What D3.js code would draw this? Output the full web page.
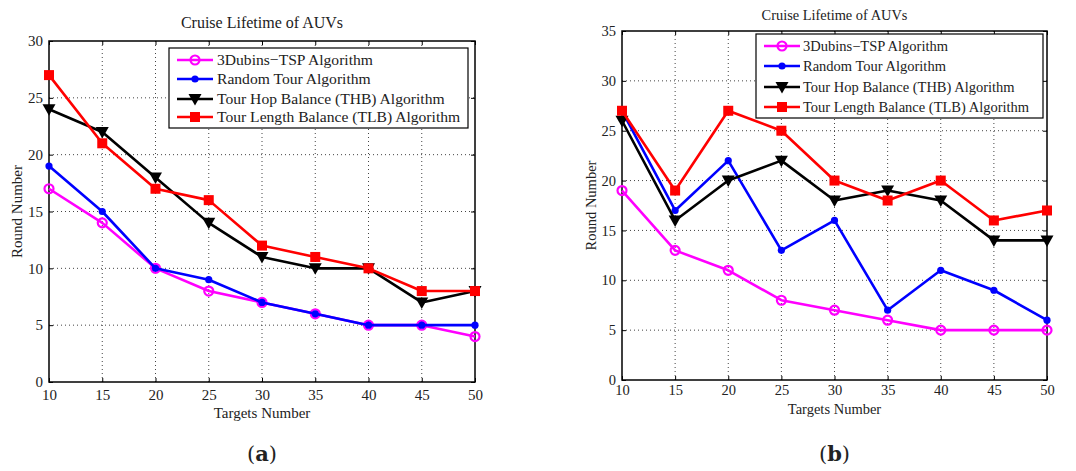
<!DOCTYPE html>
<html>
<head>
<meta charset="utf-8">
<script src="https://cdn.jsdelivr.net/npm/d3@7"></script>
<style>
  body { margin: 0; background: #fff; }
  svg { display: block; }
  text { font-family: "Liberation Serif", "Times New Roman", serif; fill: #222; }
</style>
</head>
<body>
<svg id="fig" width="1076" height="471"></svg>
<script>
// targets number on the x axis
var targets = [10, 15, 20, 25, 30, 35, 40, 45, 50];

var seriesNames = [
  "3Dubins\u2212TSP Algorithm",
  "Random Tour Algorithm",
  "Tour Hop Balance (THB) Algorithm",
  "Tour Length Balance (TLB) Algorithm"
];

// panel (a)
var dubinsA = [17, 14, 10, 8, 7, 6, 5, 5, 4];
var randomA = [19, 15, 10, 9, 7, 6, 5, 5, 5];
var thbA = [24, 22, 18, 14, 11, 10, 10, 7, 8];
var tlbA = [27, 21, 17, 16, 12, 11, 10, 8, 8];

// panel (b)
var dubinsB = [19, 13, 11, 8, 7, 6, 5, 5, 5];
var randomB = [27, 17, 22, 13, 16, 7, 11, 9, 6];
var thbB = [26, 16, 20, 22, 18, 19, 18, 14, 14];
var tlbB = [27, 19, 27, 25, 20, 18, 20, 16, 17];

var yTicksA = [0, 5, 10, 15, 20, 25, 30];
var yTicksB = [0, 5, 10, 15, 20, 25, 30, 35];

var styles = [
  { color: "#ff00ff", marker: "circleOpen" },
  { color: "#0000ff", marker: "dot" },
  { color: "#000000", marker: "triangle" },
  { color: "#ff0000", marker: "square" }
];

var svg = d3.select("#fig");

function drawMarker(sel, type, color) {
  if (type === "circleOpen") {
    sel.append("circle").attr("r", 4.5).attr("fill", "none")
      .attr("stroke", color).attr("stroke-width", 2.2);
  } else if (type === "dot") {
    sel.append("circle").attr("r", 3.6).attr("fill", color);
  } else if (type === "triangle") {
    sel.append("path").attr("d", "M-6.5,-5 L6.5,-5 L0,6.5 Z").attr("fill", color);
  } else {
    sel.append("rect").attr("x", -5).attr("y", -5).attr("width", 10).attr("height", 10)
      .attr("fill", color);
  }
}

function drawPanel(opt) {
  var g = svg.append("g");
  var x = d3.scaleLinear().domain([10, 50]).range([opt.left, opt.right]);
  var y = d3.scaleLinear().domain([0, opt.ymax]).range([opt.bottom, opt.top]);

  // dotted grid
  g.append("g").selectAll("line").data(targets.slice(1, -1)).enter().append("line")
    .attr("x1", function (d) { return x(d); })
    .attr("x2", function (d) { return x(d); })
    .attr("y1", opt.top).attr("y2", opt.bottom)
    .attr("stroke", "#444").attr("stroke-width", 1).attr("stroke-dasharray", "1,3");
  g.append("g").selectAll("line").data(opt.yticks.slice(1, -1)).enter().append("line")
    .attr("y1", function (d) { return y(d); })
    .attr("y2", function (d) { return y(d); })
    .attr("x1", opt.left).attr("x2", opt.right)
    .attr("stroke", "#444").attr("stroke-width", 1).attr("stroke-dasharray", "1,3");

  // axes, ticks inward on all four sides
  var axB = d3.axisBottom(x).tickValues(targets).tickSizeInner(-4).tickSizeOuter(0).tickPadding(opt.xPad);
  var axL = d3.axisLeft(y).tickValues(opt.yticks).tickSizeInner(-4).tickSizeOuter(0).tickPadding(6);
  var axT = d3.axisTop(x).tickValues(targets).tickSizeInner(-4).tickSizeOuter(0).tickFormat("");
  var axR = d3.axisRight(y).tickValues(opt.yticks).tickSizeInner(-4).tickSizeOuter(0).tickFormat("");

  [[axB, "translate(0," + opt.bottom + ")"], [axL, "translate(" + opt.left + ",0)"],
   [axT, "translate(0," + opt.top + ")"], [axR, "translate(" + opt.right + ",0)"]].forEach(function (a) {
    var ax = g.append("g").attr("transform", a[1]).call(a[0]);
    ax.select(".domain").remove();
    ax.selectAll("line").attr("stroke", "#000");
    ax.selectAll("text").style("font-family", "Liberation Serif, serif")
      .style("font-size", opt.tickFont + "px").attr("fill", "#222");
  });

  g.append("rect").attr("x", opt.left).attr("y", opt.top)
    .attr("width", opt.right - opt.left).attr("height", opt.bottom - opt.top)
    .attr("fill", "none").attr("stroke", "#000").attr("stroke-width", 1.5);

  // series
  var line = d3.line()
    .x(function (d, i) { return x(targets[i]); })
    .y(function (d) { return y(d); });

  opt.series.forEach(function (vals, k) {
    var st = styles[k];
    g.append("path").datum(vals).attr("d", line)
      .attr("fill", "none").attr("stroke", st.color).attr("stroke-width", 2.6)
      .attr("stroke-linejoin", "round");
    g.append("g").selectAll("g").data(vals).enter().append("g")
      .attr("transform", function (d, i) { return "translate(" + x(targets[i]) + "," + y(d) + ")"; })
      .each(function () { drawMarker(d3.select(this), st.marker, st.color); });
  });

  // legend
  var lg = g.append("g");
  lg.append("rect").attr("x", opt.legend.x0).attr("y", opt.legend.y0)
    .attr("width", opt.legend.x1 - opt.legend.x0).attr("height", opt.legend.y1 - opt.legend.y0)
    .attr("fill", "#fff").attr("stroke", "#000").attr("stroke-width", 1.2);
  seriesNames.forEach(function (name, k) {
    var st = styles[k];
    var ly = opt.legend.rows[k];
    lg.append("line").attr("x1", opt.legend.lx0).attr("x2", opt.legend.lx1)
      .attr("y1", ly).attr("y2", ly).attr("stroke", st.color).attr("stroke-width", 2.6);
    drawMarker(lg.append("g").attr("transform", "translate(" + (opt.legend.lx0 + opt.legend.lx1) / 2 + "," + ly + ")"),
      st.marker, st.color);
    lg.append("text").attr("x", opt.legend.tx).attr("y", ly).attr("dy", "0.35em")
      .style("font-size", opt.legendFont + "px").text(name);
  });

  // titles and labels
  var cx = (opt.left + opt.right) / 2;
  g.append("text").attr("x", cx).attr("y", opt.titleY).attr("text-anchor", "middle")
    .style("font-size", opt.titleFont + "px").text("Cruise Lifetime of AUVs");
  g.append("text").attr("x", cx).attr("y", opt.xlabY).attr("text-anchor", "middle")
    .style("font-size", opt.labFont + "px").text("Targets Number");
  g.append("text").attr("transform", "translate(" + opt.ylabX + "," + (opt.top + opt.bottom) / 2 + ") rotate(-90)")
    .attr("text-anchor", "middle").style("font-size", opt.labFont + "px").text("Round Number");
  g.append("text").attr("x", cx).attr("y", 461).attr("text-anchor", "middle")
    .style("font-family", "DejaVu Serif, serif").style("font-size", "21px")
    .html("(<tspan font-weight='bold'>" + opt.tag + "</tspan>)");
}

drawPanel({
  left: 49, right: 475, top: 41, bottom: 382, ymax: 30, yticks: yTicksA,
  series: [dubinsA, randomA, thbA, tlbA],
  tickFont: 15, legendFont: 15.6, labFont: 15, titleFont: 16, xPad: 7,
  titleY: 28, xlabY: 418, ylabX: 22, tag: "a",
  legend: { x0: 169, x1: 468, y0: 48, y1: 128, rows: [60, 79, 99, 117], lx0: 177, lx1: 213, tx: 217 }
});

drawPanel({
  left: 622, right: 1047, top: 31, bottom: 380, ymax: 35, yticks: yTicksB,
  series: [dubinsB, randomB, thbB, tlbB],
  tickFont: 14.5, legendFont: 14.5, labFont: 14.5, titleFont: 14.4, xPad: 5,
  titleY: 20, xlabY: 414, ylabX: 596, tag: "b",
  legend: { x0: 756, x1: 1043, y0: 34, y1: 118, rows: [46, 66, 87, 107], lx0: 764, lx1: 800, tx: 803 }
});
</script>
</body>
</html>
